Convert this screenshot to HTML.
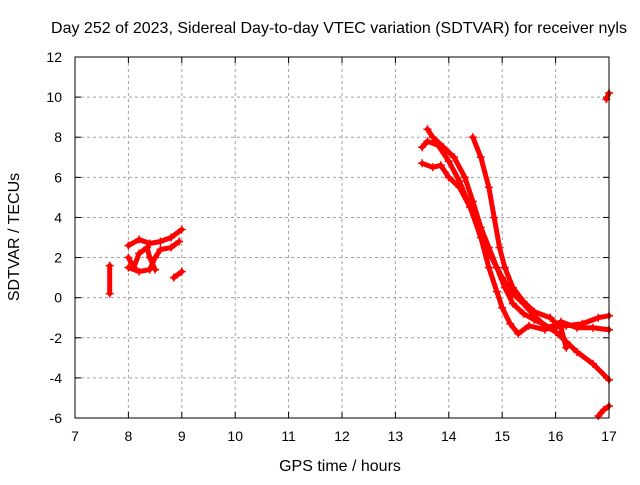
<!DOCTYPE html>
<html><head><meta charset="utf-8"><style>
body{margin:0;background:#fff}
svg text{font-family:"Liberation Sans",sans-serif;font-size:14px;fill:#000}
svg text.big{font-size:16px}
</style></head><body>
<svg id="c" width="640" height="480">
<text class="big" x="339" y="33" text-anchor="middle">Day 252 of 2023, Sidereal Day-to-day VTEC variation (SDTVAR) for receiver nyls</text>
<text class="big" x="340" y="471" text-anchor="middle">GPS time / hours</text>
<text class="big" transform="translate(19,237) rotate(-90)" text-anchor="middle">SDTVAR / TECUs</text>
<g id="grid"></g><g id="ticks"></g><g id="marks"></g>
<rect x="75" y="57" width="534" height="361" fill="none" stroke="#000" stroke-width="1"/>
</svg>
<script>
const xTicks=[7,8,9,10,11,12,13,14,15,16,17];
const yTicks=[-6,-4,-2,0,2,4,6,8,10,12];
const trackA=[[13.6,8.4],[13.7,8.0],[13.9,7.5],[14.1,7.0],[14.3,6.0],[14.45,4.8],[14.6,3.5],[14.75,2.5],[14.9,1.5],[15.05,0.5],[15.2,-0.3],[15.4,-0.8],[15.6,-1.1],[15.9,-1.5],[16.2,-1.4],[16.5,-1.3],[16.8,-1.0],[17,-0.9]];
const trackB=[[13.5,7.5],[13.6,7.8],[13.8,7.6],[14.0,6.8],[14.2,5.8],[14.4,4.5],[14.6,3.0],[14.75,1.5],[14.9,0.3],[15.0,-0.5],[15.15,-1.3],[15.3,-1.8],[15.5,-1.4],[15.8,-1.6],[16.1,-1.2],[16.4,-1.5],[16.7,-1.5],[17,-1.6]];
const trackC=[[13.5,6.7],[13.7,6.5],[13.85,6.6],[14.0,6.0],[14.2,5.5],[14.4,4.5],[14.6,3.2],[14.8,2.0],[15.0,1.0],[15.2,0.2],[15.4,-0.3],[15.6,-0.9],[15.8,-1.4],[16.0,-1.7],[16.2,-2.2],[16.4,-2.7],[16.7,-3.3],[17,-4.1]];
const trackD=[[14.45,8.0],[14.6,7.0],[14.75,5.5],[14.85,4.0],[14.95,2.5],[15.05,1.5],[15.2,0.5],[15.4,-0.2],[15.6,-0.7],[15.9,-1.0],[16.1,-1.5],[16.2,-2.5]];
const trackE=[[16.8,-5.9],[16.9,-5.6],[17,-5.4]];
const trackF=[[16.95,9.9],[17,10.2]];
const trackG=[[7.65,1.6],[7.65,0.2]];
const trackH=[[8.0,2.6],[8.2,2.9],[8.4,2.7],[8.6,2.8],[8.8,3.0],[9.0,3.4]];
const trackI=[[8.0,1.5],[8.2,1.3],[8.4,1.4],[8.5,2.0],[8.6,2.4],[8.8,2.5],[8.95,2.8]];
const trackJ=[[8.0,2.0],[8.1,1.5],[8.2,2.2],[8.35,2.5],[8.4,2.0],[8.5,1.4]];
const trackK=[[8.85,1.0],[9.0,1.3]];
const tracks=[trackA,trackB,trackC,trackD,trackE,trackF,trackG,trackH,trackI,trackJ,trackK];
const X=h=>75+(h-7)*53.4, Y=v=>57+(12-v)*(361/18);
const NS="http://www.w3.org/2000/svg";
const mk=(t,a)=>{const e=document.createElementNS(NS,t);for(const k in a)e.setAttribute(k,a[k]);return e;};
const grid=document.getElementById('grid'),ticks=document.getElementById('ticks'),marks=document.getElementById('marks');
xTicks.forEach(t=>{const x=X(t);
 if(t>7&&t<17){const g=mk('line',{x1:x,x2:x,y1:57,y2:418,stroke:'#a0a0a0','stroke-dasharray':'3,3'});
 
 grid.appendChild(g);}
 ticks.appendChild(mk('line',{x1:x,x2:x,y1:418,y2:412,stroke:'#000'}));
 ticks.appendChild(mk('line',{x1:x,x2:x,y1:57,y2:63,stroke:'#000'}));
 const l=mk('text',{x:x,y:441,'text-anchor':'middle'});l.textContent=t;
 
 ticks.appendChild(l);});
yTicks.forEach(t=>{const y=Y(t);
 if(t>-6&&t<12){const g=mk('line',{x1:75,x2:609,y1:y,y2:y,stroke:'#a0a0a0','stroke-dasharray':'3,3'});
 
 grid.appendChild(g);}
 ticks.appendChild(mk('line',{x1:75,x2:81,y1:y,y2:y,stroke:'#000'}));
 ticks.appendChild(mk('line',{x1:609,x2:603,y1:y,y2:y,stroke:'#000'}));
 const l=mk('text',{x:62,y:y+5,'text-anchor':'end'});l.textContent=t;
 
 ticks.appendChild(l);});
tracks.forEach(tr=>{
 const p=mk('polyline',{points:tr.map(d=>X(d[0])+','+Y(d[1])).join(' '),fill:'none',stroke:'#f00','stroke-width':5,'stroke-linejoin':'round','stroke-linecap':'round'});
 
 marks.appendChild(p);
 tr.forEach(d=>{const x=X(d[0]),y=Y(d[1]);
  const m=mk('path',{d:`M${x-4},${y}H${x+4}M${x},${y-4}V${y+4}`,stroke:'#f00','stroke-width':1.5});
  
  marks.appendChild(m);});
});
</script>
</body></html>
